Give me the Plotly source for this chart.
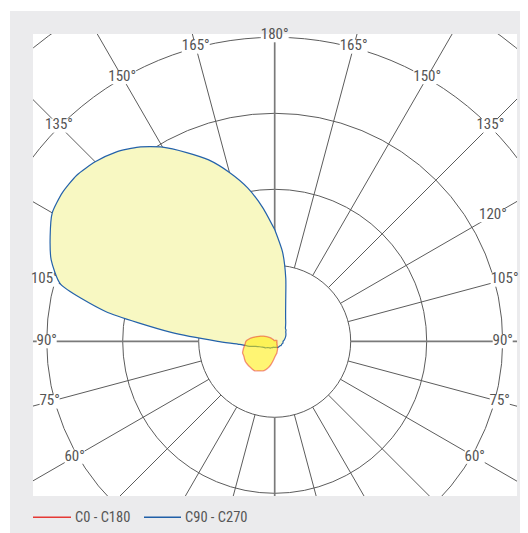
import numpy as np
import plotly.graph_objects as go

# ---------------- data (luminous intensity, cd/klm) ----------------
gamma = list(range(0, 181, 5))  # 0..180 deg
c0   = [21,18,16,13,11,9,7,5,5,4,4,4,3,3,3,3,3,3,3,3,3,3,3,3,2,2,2,2,2,1,1,1,1,1,1,1,1]
c180 = [21,26,32,37,41,43,45,47,47,47,47,47,46,45,45,43,41,39,38,34,29,24,20,16,12,9,7,4,3,2,1,1,1,1,1,1,1]
c90  = [8,8,8,8,9,9,9,9,9,9,9,10,10,10,10,11,11,11,11,12,13,14,15,16,17,18,19,21,22,25,29,34,42,56,84,118,147]
c270 = [8,8,8,8,9,9,10,11,11,12,13,15,16,18,21,26,36,46,75,138,226,292,313,326,338,341,340,334,325,312,295,274,254,230,205,176,147]
grid_r = [100, 200, 300, 400, 500]
angle_labels_left = [60, 75, 90, 105, 135, 150, 165]
angle_labels_right = [60, 75, 90, 105, 120, 135, 150, 165]
legend_names = ["C0 - C180", "C90 - C270"]

# ---------------- geometry / style ----------------
W, H = 520, 525
PL, PR, PT, PB = 25, 509, 26, 488       # plot area in px
CX, CY = 266.7, 333.3                     # pole in px
S = 0.76                                  # px per unit
xr = [(PL - CX) / S, (PR - CX) / S]
yr = [(CY - PB) / S, (CY - PT) / S]
FONT = "Roboto Condensed, DejaVu Sans Condensed, sans-serif"
TXT = "#555555"
GRID = "#5c5c5c"


def curve(left, right):
    g = np.radians(gamma)
    l = np.array(left, float)
    r = np.array(right, float)
    x = np.concatenate([-l * np.sin(g), (r * np.sin(g))[::-1]])
    y = np.concatenate([-l * np.cos(g), (-r * np.cos(g))[::-1]])
    return x, y


def px2paper(px, py):
    return (px - PL) / (PR - PL), (PB - py) / (PB - PT)


shapes = []
# page background and plot area
gx0, gy0 = px2paper(2, 3)
gx1, gy1 = px2paper(W + 5, H + 5)
shapes.append(dict(type="rect", xref="paper", yref="paper", x0=gx0, x1=gx1, y0=gy1, y1=gy0,
                   fillcolor="#EBEBED", line=dict(width=0), layer="below"))
shapes.append(dict(type="rect", xref="paper", yref="paper", x0=0, x1=1, y0=0, y1=1,
                   fillcolor="white", line=dict(width=0), layer="below"))
# grid circles
for rr in grid_r:
    shapes.append(dict(type="circle", xref="x", yref="y", x0=-rr, x1=rr, y0=-rr, y1=rr,
                       line=dict(color=GRID, width=1), layer="below"))
# radial lines
for a in range(0, 360, 15):
    th = np.radians(a)
    main = a % 90 == 0
    shapes.append(dict(type="line", xref="x", yref="y",
                       x0=100 * np.sin(th), x1=800 * np.sin(th),
                       y0=-100 * np.cos(th), y1=-800 * np.cos(th),
                       line=dict(color="#7a7a7a" if main else GRID, width=1.7 if main else 1),
                       layer="below"))

# angle labels (radius in px where each label sits), white boxes below the curves
label_r_px = {60: 231, 75: 233, 90: 228, 105: 238, 120: 252, 135: 305, 150: 305, 165: 305}
lx, ly, lt = [], [], []
def add_label(a, side):
    rp = label_r_px.get(a, 306) / S
    th = np.radians(a)
    x, y = side * rp * np.sin(th), -rp * np.cos(th)
    txt = f"{a}°"
    hw = (8.0 * (len(txt) - 1) + 4) / 2 / S
    hh = 7.0 / S
    shapes.append(dict(type="rect", xref="x", yref="y", x0=x - hw, x1=x + hw,
                       y0=y - hh, y1=y + hh, fillcolor="white", line=dict(width=0),
                       layer="below"))
    lx.append(x); ly.append(y); lt.append(txt)
for a in angle_labels_left:
    add_label(a, -1)
for a in angle_labels_right:
    add_label(a, 1)
add_label(180, 1)

fig = go.Figure()
fig.add_trace(go.Scatter(x=lx, y=ly, text=lt, mode="text", textposition="middle center",
                         textfont=dict(family=FONT, size=15, color=TXT), hoverinfo="skip",
                         showlegend=False, cliponaxis=False))

# C90 - C270
bx, by = curve(c270, c90)
fig.add_trace(go.Scatter(x=bx, y=by, mode="lines", fill="toself", fillcolor="#F8F8C2",
                         line=dict(color="#2462AA", width=1.2, shape="spline", smoothing=0.6),
                         name=legend_names[1], showlegend=False))
# C0 - C180
rx, ry = curve(c180, c0)
fig.add_trace(go.Scatter(x=rx, y=ry, mode="lines", fill="toself",
                         fillcolor="rgba(255,236,0,0.55)",
                         line=dict(color="rgba(232,40,40,0.5)", width=1.3, shape="spline",
                                   smoothing=0.6),
                         name=legend_names[0], showlegend=False))

# legend (manual)
ann = []
leg = [(25, 63, 65, "#E53935"), (136, 173, 175, "#1F5FA8")]
for (x0p, x1p, tx, col), name in zip(leg, legend_names):
    ax0, ay = px2paper(x0p, 509.3)
    ax1, _ = px2paper(x1p, 509.3)
    shapes.append(dict(type="line", xref="paper", yref="paper", x0=ax0, x1=ax1, y0=ay, y1=ay,
                       line=dict(color=col, width=1.5)))
    tx_p, _ = px2paper(tx, 509.3)
    ann.append(dict(x=tx_p, y=ay, xref="paper", yref="paper", text=name, showarrow=False,
                    xanchor="left", yanchor="middle",
                    font=dict(family=FONT, size=14.5, color=TXT)))

fig.update_layout(
    width=W, height=H, autosize=False,
    margin=dict(l=PL, r=W - PR, t=PT, b=H - PB, pad=0),
    paper_bgcolor="white", plot_bgcolor="rgba(0,0,0,0)",
    xaxis=dict(range=xr, visible=False, fixedrange=True),
    yaxis=dict(range=yr, visible=False, fixedrange=True),
    shapes=shapes, annotations=ann, showlegend=False,
)
fig.write_html("out.html")
